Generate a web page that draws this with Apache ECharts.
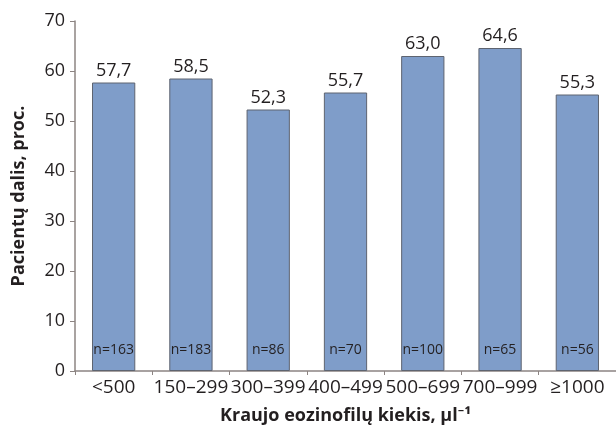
<!DOCTYPE html>
<html>
<head>
<meta charset="utf-8">
<script src="https://cdn.jsdelivr.net/npm/echarts@6/dist/echarts.min.js"></script>
<style>
  html, body { margin: 0; padding: 0; background: #fff; }
  #chart { width: 616px; height: 431px; }
</style>
</head>
<body>
<div id="chart"></div>
<script>
const categories = ["<500", "150\u2013299", "300\u2013399", "400\u2013499", "500\u2013699", "700\u2013999", "\u22651000"];
const shares = [57.7, 58.5, 52.3, 55.7, 63.0, 64.6, 55.3];
const counts = [163, 183, 86, 70, 100, 65, 56];

const font = "'Open Sans', 'Noto Sans', sans-serif";
const chart = echarts.init(document.getElementById("chart"));

chart.setOption({
  animation: false,
  grid: { left: 75, right: 0, top: 21, bottom: 60 },
  xAxis: {
    type: "category",
    data: categories,
    name: "Kraujo eozinofilų kiekis, µl\u207B\u00B9",
    nameLocation: "middle",
    nameGap: 36,
    nameTextStyle: { fontFamily: font, fontSize: 18, fontWeight: "bold", color: "#231f20" },
    axisLine: { lineStyle: { color: "#8c8482", width: 1.5 } },
    axisTick: { show: true, length: 4, lineStyle: { color: "#8c8482" } },
    axisLabel: { fontFamily: font, fontSize: 19, color: "#231f20", margin: 7, interval: 0 }
  },
  yAxis: {
    type: "value",
    min: 0,
    max: 70,
    interval: 10,
    name: "Pacientų dalis, proc.",
    nameLocation: "middle",
    nameGap: 47,
    nameTextStyle: { fontFamily: font, fontSize: 18, fontWeight: "bold", color: "#231f20" },
    axisLine: { show: true, lineStyle: { color: "#8c8482", width: 1.5 } },
    axisTick: { show: true, length: 5, lineStyle: { color: "#8c8482" } },
    axisLabel: { fontFamily: font, fontSize: 18, color: "#231f20", margin: 10 },
    splitLine: { show: false }
  },
  series: [{
    type: "bar",
    data: shares,
    barCategoryGap: "44%",
    itemStyle: { color: "#7f9dc9", borderColor: "#5e6470", borderWidth: 1 },
    label: {
      show: true,
      position: "top",
      distance: 3,
      fontFamily: font,
      fontSize: 18,
      color: "#231f20",
      formatter: p => p.value.toFixed(1).replace(".", ",")
    }
  }, {
    type: "bar",
    data: shares.map(() => 0),
    barGap: "-100%",
    barCategoryGap: "44%",
    silent: true,
    itemStyle: { color: "transparent" },
    label: {
      show: true,
      position: "insideBottom",
      offset: [0, -9],
      fontFamily: font,
      fontSize: 14,
      color: "#231f20",
      formatter: p => "n=" + counts[p.dataIndex]
    }
  }]
});
</script>
</body>
</html>
